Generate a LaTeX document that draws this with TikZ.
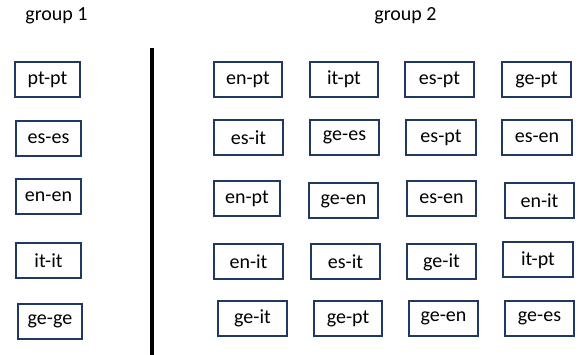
\documentclass[tikz,border=0pt]{standalone}
\usepackage{fontspec}
\setmainfont{Carlito}
\definecolor{boxblue}{HTML}{1F3864}
\begin{document}
\begin{tikzpicture}[x=1pt,y=-1pt,
  pair/.style={draw=boxblue, line width=2pt, fill=white, inner sep=0pt,
    minimum width=#1, minimum height=35pt, font=\fontsize{20}{24}\selectfont},
  pair/.default=69pt,
  heading/.style={anchor=base, inner sep=0pt, font=\fontsize{20}{24}\selectfont}]
\useasboundingbox (0,0) rectangle (581,355);

% headings
\node[heading] (h1) at (56.5,21) {group 1};
\node[heading] (h2) at (405.5,21) {group 2};

% separator
\coordinate (sepTop) at (152,48);
\coordinate (sepBot) at (152,355);
\draw[line width=4pt] (sepTop) -- (sepBot);

% group 1
\node[pair=65pt] (a1) at (47.5,79.5)  {pt-pt};
\node[pair=65pt] (a2) at (48.5,138.5) {es-es};
\node[pair=65pt] (a3) at (48.5,196.5) {en-en};
\node[pair=65pt] (a4) at (48.5,260.5) {it-it};
\node[pair=64pt] (a5) at (50,321.5)   {ge-ge};

% group 2, row 1
\node[pair=68pt] (b11) at (248,79.5)   {en-pt};
\node[pair=68pt] (b12) at (344,79.5)   {it-pt};
\node[pair]      (b13) at (439.5,79.5) {es-pt};
\node[pair]      (b14) at (536.5,79.5) {ge-pt};
% row 2
\node[pair]      (b21) at (248.5,137.5) {es-it};
\node[pair]      (b22) at (344.5,137.5) {ge-es};
\node[pair=70pt] (b23) at (441,137.5)   {es-pt};
\node[pair=70pt] (b24) at (537,137.5)   {es-en};
% row 3
\node[pair=66pt] (b31) at (247,199)     {en-pt};
\node[pair]      (b32) at (343.5,201)   {ge-en};
\node[pair]      (b33) at (441.5,198.5) {es-en};
\node[pair]      (b34) at (539.5,200.5) {en-it};
% row 4
\node[pair]      (b41) at (248.5,261.5) {en-it};
\node[pair]      (b42) at (345.5,261.5) {es-it};
\node[pair]      (b43) at (441.5,262)   {ge-it};
\node[pair=70pt] (b44) at (538,260)     {it-pt};
% row 5
\node[pair]      (b51) at (252.5,318.5) {ge-it};
\node[pair=68pt] (b52) at (348,318.5)   {ge-pt};
\node[pair]      (b53) at (443.5,318.5) {ge-en};
\node[pair]      (b54) at (539.5,318.5) {ge-es};
\end{tikzpicture}
\end{document}
